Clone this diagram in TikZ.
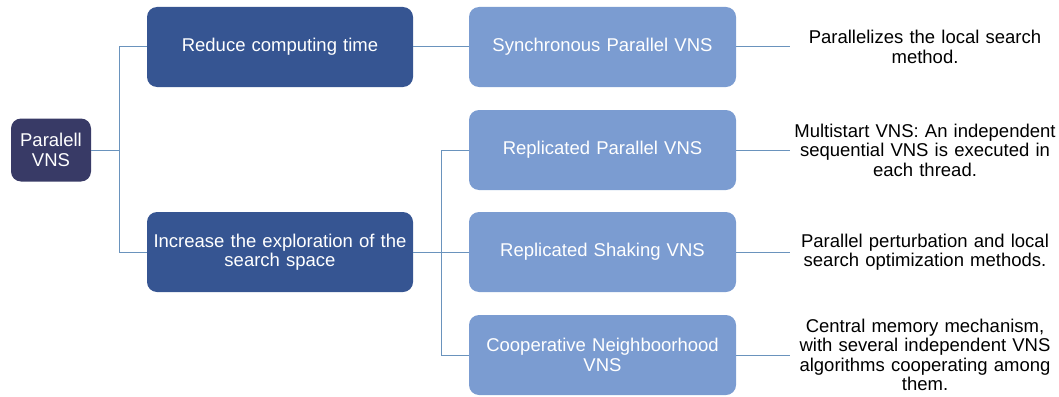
\documentclass[tikz,border=0pt]{standalone}
\usepackage{fontspec}
\setmainfont{Liberation Sans}
\definecolor{rootfill}{HTML}{383A66}
\definecolor{midfill}{HTML}{365592}
\definecolor{leaffill}{HTML}{7B9CD1}
\definecolor{linkcol}{HTML}{6A93BD}
\begin{document}
\begin{tikzpicture}[x=1pt,y=-1pt,
  every node/.style={font=\fontsize{18.5}{19.5}\selectfont},
  box/.style={rounded corners=10pt, align=center, text=white, inner sep=0pt},
  rootbox/.style={box, fill=rootfill, minimum width=80pt, minimum height=63pt},
  midbox/.style={box, fill=midfill, minimum width=266pt, minimum height=80pt, text width=255pt},
  leafbox/.style={box, fill=leaffill, minimum width=267pt, minimum height=80pt, text width=255pt},
  note/.style={align=center, text width=270pt, inner sep=0pt, text=black},
  link/.style={draw=linkcol, line width=1pt}]
\useasboundingbox (0,0) rectangle (1059,396);

% tree nodes
\node[rootbox] (root) at (51,150) {Paralell\\VNS};
\node[midbox] (reduce) at (280,47) {Reduce computing time};
\node[midbox] (increase) at (280,252) {Increase the exploration of the\\search space};
\node[leafbox] (sync) at (602.5,47) {Synchronous Parallel VNS};
\node[leafbox] (repl) at (602.5,150) {Replicated Parallel VNS};
\node[leafbox] (shake) at (602.5,252) {Replicated Shaking VNS};
\node[leafbox] (coop) at (602.5,355) {Cooperative Neighboorhood\\VNS};

% descriptions
\node[note] (d1) at (925,47) {Parallelizes the local search\\method.};
\node[note] (d2) at (925,150) {Multistart VNS: An independent\\sequential VNS is executed in\\each thread.};
\node[note] (d3) at (925,252) {Parallel perturbation and local\\search optimization methods.};
\node[note] (d4) at (925,355) {Central memory mechanism,\\with several independent VNS\\algorithms cooperating among\\them.};

% junction points
\coordinate (j1) at (119,150);
\coordinate (j2) at (441,252);

% connectors
\draw[link] (root.east) -- (j1);
\draw[link] (j1) |- (reduce.west);
\draw[link] (j1) |- (increase.west);
\draw[link] (reduce.east) -- (sync.west);
\draw[link] (increase.east) -- (j2);
\draw[link] (j2) |- (repl.west);
\draw[link] (j2) -- (shake.west);
\draw[link] (j2) |- (coop.west);
\draw[link] (sync.east) -- (d1.west);
\draw[link] (repl.east) -- (d2.west);
\draw[link] (shake.east) -- (d3.west);
\draw[link] (coop.east) -- (d4.west);
\end{tikzpicture}
\end{document}
